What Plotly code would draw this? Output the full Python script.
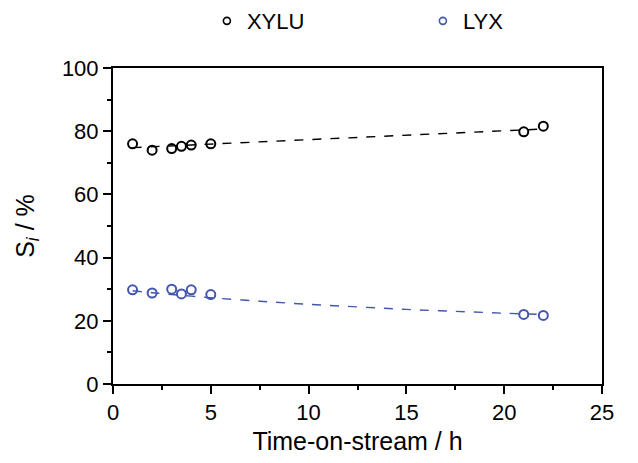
import plotly.graph_objects as go

# Data
time_h = [1, 2, 3, 3.5, 4, 5, 21, 22]
xylu = [76.0, 74.0, 74.5, 75.2, 75.6, 76.0, 79.8, 81.6]
lyx = [29.8, 28.8, 30.0, 28.5, 29.8, 28.3, 22.0, 21.7]

# Dashed trend lines
fit_x_xylu = [1, 22]
fit_y_xylu = [74.8, 80.7]
fit_x_lyx = [1, 2, 3, 4, 5, 7.5, 10, 12.5, 15, 17.5, 20, 22]
fit_y_lyx = [29.5, 28.9, 28.3, 27.8, 27.3, 26.2, 25.2, 24.4, 23.6, 23.0, 22.4, 22.0]

series_names = ["XYLU", "LYX"]

BLACK = "#000000"
BLUE = "#4357ad"
FONT = "Liberation Sans, Arial, sans-serif"

fig = go.Figure()

fig.add_trace(go.Scatter(x=fit_x_xylu, y=fit_y_xylu, mode="lines",
                         line=dict(color=BLACK, width=1.4, dash="dash"),
                         showlegend=False, hoverinfo="skip"))
fig.add_trace(go.Scatter(x=fit_x_lyx, y=fit_y_lyx, mode="lines",
                         line=dict(color=BLUE, width=1.4, dash="dash", shape="spline"),
                         showlegend=False, hoverinfo="skip"))

for name, vals, col in [(series_names[0], xylu, BLACK), (series_names[1], lyx, BLUE)]:
    fig.add_trace(go.Scatter(x=time_h, y=vals, mode="markers", name=name, showlegend=False,
                             marker=dict(symbol="circle-open", size=9, color=col,
                                         line=dict(width=2, color=col))))
    # legend entry with the smaller marker seen in the reference legend
    fig.add_trace(go.Scatter(x=[None], y=[None], mode="markers", name=name,
                             marker=dict(symbol="circle-open", size=7, color=col,
                                         line=dict(width=1.6, color=col))))

axis_common = dict(showgrid=False, zeroline=False, showline=True, linecolor=BLACK,
                   linewidth=2, mirror=True, ticks="outside", ticklen=8, tickwidth=2,
                   tickcolor=BLACK, tickfont=dict(size=22, color=BLACK, family=FONT))

fig.update_xaxes(range=[0, 25], dtick=5, tick0=0,
                 minor=dict(dtick=2.5, ticks="outside", ticklen=4, tickwidth=2, tickcolor=BLACK),
                 title=dict(text="Time-on-stream / h", font=dict(size=25, color=BLACK, family=FONT),
                            standoff=8),
                 **axis_common)
fig.update_yaxes(range=[0, 100], dtick=20, tick0=0,
                 minor=dict(dtick=10, ticks="outside", ticklen=4, tickwidth=2, tickcolor=BLACK),
                 title=dict(text="S<sub><i>i</i></sub> / %", font=dict(size=25, color=BLACK, family=FONT),
                            standoff=20),
                 **axis_common)

fig.update_layout(
    width=630, height=455,
    margin=dict(l=105, r=36, t=60, b=79, autoexpand=False),
    plot_bgcolor="white", paper_bgcolor="white",
    font=dict(family=FONT, color=BLACK),
    showlegend=True,
    legend=dict(orientation="h", x=0.192, xanchor="left", y=1.215, yanchor="top",
                yref="paper", font=dict(size=22, color=BLACK, family=FONT),
                itemwidth=30, entrywidth=171, entrywidthmode="pixels",
                bgcolor="rgba(0,0,0,0)"),
)

fig.write_html("out.html")
